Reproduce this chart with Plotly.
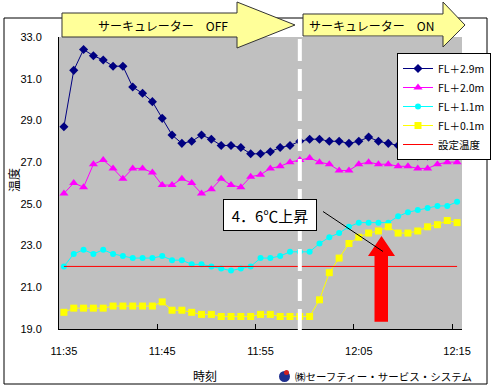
import plotly.graph_objects as go

# ---------------- data ----------------
times = ["11:35", "11:36", "11:37", "11:38", "11:39", "11:40", "11:41", "11:42", "11:43", "11:44",
         "11:45", "11:46", "11:47", "11:48", "11:49", "11:50", "11:51", "11:52", "11:53", "11:54",
         "11:55", "11:56", "11:57", "11:58", "11:59", "12:00", "12:01", "12:02", "12:03", "12:04",
         "12:05", "12:06", "12:07", "12:08", "12:09", "12:10", "12:11", "12:12", "12:13", "12:14",
         "12:15"]
tick_labels = ["11:35", "11:45", "11:55", "12:05", "12:15"]
y_ticks = [19, 21, 23, 25, 27, 29, 31, 33]
y_tick_text = ["19.0", "21.0", "23.0", "25.0", "27.0", "29.0", "31.0", "33.0"]

fl29 = [28.7, 31.4, 32.4, 32.1, 31.9, 31.6, 31.6, 30.6, 30.3, 29.9,
        29.1, 28.3, 27.9, 28.0, 28.3, 28.1, 27.8, 27.8, 27.7, 27.4,
        27.4, 27.5, 27.7, 27.8, 28.0, 28.1, 28.1, 28.0, 28.0, 27.9,
        28.0, 28.2, 28.0, 27.9, 27.8, 27.7, 27.3, 27.3, 27.5, 27.4,
        27.4]
fl20 = [25.5, 26.0, 25.8, 26.9, 27.1, 26.7, 26.2, 26.7, 26.7, 26.5,
        25.9, 25.9, 26.2, 26.0, 25.5, 25.7, 26.2, 25.9, 25.8, 26.3,
        26.4, 26.7, 26.8, 27.0, 27.1, 27.2, 27.0, 26.9, 26.6, 26.6,
        26.9, 27.0, 26.9, 26.9, 26.8, 26.8, 26.7, 26.7, 26.9, 27.0,
        27.0]
fl11 = [22.0, 22.6, 22.8, 22.6, 22.8, 22.6, 22.5, 22.4, 22.4, 22.4,
        22.5, 22.3, 22.3, 22.1, 22.1, 22.0, 21.9, 21.8, 21.9, 22.0,
        22.4, 22.4, 22.5, 22.7, 22.7, 22.7, 23.1, 23.4, 23.6, 23.9,
        24.1, 24.1, 24.1, 24.1, 24.4, 24.6, 24.7, 24.8, 24.9, 24.9,
        25.1]
fl01 = [19.8, 20.0, 20.0, 20.0, 20.0, 20.1, 20.1, 20.1, 20.1, 20.1,
        20.3, 19.9, 19.9, 19.8, 19.7, 19.7, 19.6, 19.6, 19.6, 19.6,
        19.7, 19.7, 19.6, 19.6, 19.6, 19.6, 20.4, 21.7, 22.4, 23.1,
        23.4, 23.6, 23.7, 23.9, 23.6, 23.6, 23.7, 23.9, 24.0, 24.2,
        24.1]
setpoint = [22.0, 22.0, 22.0, 22.0, 22.0, 22.0, 22.0, 22.0, 22.0, 22.0,
            22.0, 22.0, 22.0, 22.0, 22.0, 22.0, 22.0, 22.0, 22.0, 22.0,
            22.0, 22.0, 22.0, 22.0, 22.0, 22.0, 22.0, 22.0, 22.0, 22.0,
            22.0, 22.0, 22.0, 22.0, 22.0, 22.0, 22.0, 22.0, 22.0, 22.0,
            22.0]
switch_time = "11:59"

names = ["FL＋2.9m", "FL＋2.0m", "FL＋1.1m", "FL＋0.1m"]
colors = ["#000080", "#FF00FF", "#00FFFF", "#FFFF00"]
symbols = ["diamond", "triangle-up", "circle", "square"]
msizes = [7, 8, 6, 7]
series = [fl29, fl20, fl11, fl01]

FONT = "Liberation Sans, Arial, Noto Sans CJK JP"
JFONT = "Noto Sans CJK JP, Liberation Sans"

# ---------------- layout helpers ----------------
W_, H_ = 498, 388
L, R, T, B = 59, 36, 37, 59
PW, PH = W_ - L - R, H_ - T - B


def px(x):
    return (x - L) / PW


def py(y):
    return (T + PH - y) / PH


def path(pts):
    s = "M " + " L ".join(f"{px(x):.5f},{py(y):.5f}" for x, y in pts) + " Z"
    return s


fig = go.Figure()
for n, v, c, s, ms in zip(names, series, colors, symbols, msizes):
    fig.add_trace(go.Scatter(x=times, y=v, name=n, mode="lines+markers",
                             line=dict(color=c, width=1),
                             marker=dict(symbol=s, size=ms, color=c, line=dict(width=0))))
fig.add_trace(go.Scatter(x=times, y=setpoint, name="設定温度", mode="lines",
                         line=dict(color="#FF0000", width=1)))

shapes = []
# outer chart border
shapes.append(dict(type="rect", xref="paper", yref="paper",
                   x0=px(4), x1=px(487), y0=py(384), y1=py(18),
                   line=dict(color="black", width=1), fillcolor="rgba(0,0,0,0)", layer="above"))
# banners
shapes.append(dict(type="path", xref="paper", yref="paper", layer="above",
                   path=path([(62, 13), (237, 13), (237, 2), (295, 25), (237, 48), (237, 37), (62, 37)]),
                   fillcolor="#FFFF99", line=dict(color="#333333", width=1)))
shapes.append(dict(type="path", xref="paper", yref="paper", layer="above",
                   path=path([(303, 14), (443, 14), (443, 2), (465, 25), (443, 47), (443, 36), (303, 36)]),
                   fillcolor="#FFFF99", line=dict(color="#333333", width=1)))
# white dashed switch line
shapes.append(dict(type="line", xref="x", yref="paper", x0=switch_time, x1=switch_time,
                   y0=py(331), y1=1, layer="above",
                   line=dict(color="white", width=4, dash="22px,8px")))
# red up arrow
shapes.append(dict(type="path", xref="paper", yref="paper", layer="above",
                   path=path([(374.5, 321.7), (374.5, 256), (368, 256), (381.5, 236), (395, 256),
                              (388, 256), (388, 321.7)]),
                   fillcolor="#FF0000", line=dict(color="#FF0000", width=0)))
# leader line
shapes.append(dict(type="line", xref="paper", yref="paper", layer="above",
                   x0=px(323), y0=py(211.5), x1=px(383), y1=py(251.5),
                   line=dict(color="black", width=1)))
# logo icon
shapes.append(dict(type="circle", xref="paper", yref="paper", layer="above",
                   x0=px(279), x1=px(290), y0=py(382), y1=py(371),
                   fillcolor="#1F2F8F", line=dict(width=0)))
shapes.append(dict(type="circle", xref="paper", yref="paper", layer="above",
                   x0=px(284), x1=px(289), y0=py(375), y1=py(370),
                   fillcolor="#D02020", line=dict(width=0)))


def ann(x, y, text, size=12, **kw):
    d = dict(xref="paper", yref="paper", x=px(x), y=py(y), text=text, showarrow=False,
             xanchor="center", yanchor="middle",
             font=dict(family=JFONT, size=size, color="black"))
    d.update(kw)
    return d


annotations = [
    ann(163, 25, "サーキュレーター　OFF", 12),
    ann(371, 25, "サーキュレーター　ON", 12),
    ann(270, 215, "4．6℃上昇", 15, bgcolor="white", bordercolor="black", borderwidth=1,
        borderpad=0, width=92, height=30),
    ann(13, 180, "温度", 12, textangle=-90),
    ann(205, 375, "時刻", 12),
    ann(293, 376, "㈱セーフティー・サービス・システム", 10.5, xanchor="left"),
]

fig.update_layout(
    template="none",
    width=W_, height=H_,
    margin=dict(l=L, r=R, t=T, b=B, pad=0, autoexpand=False),
    paper_bgcolor="white", plot_bgcolor="#C0C0C0",
    font=dict(family=FONT, size=11, color="black"),
    showlegend=True,
    legend=dict(x=px(397), y=py(53), xanchor="left", yanchor="top",
                bgcolor="white", bordercolor="black", borderwidth=1,
                font=dict(family=JFONT, size=10.5, color="black"),
                itemwidth=30, tracegroupgap=0),
    xaxis=dict(type="category", range=[-0.5, 40.5], tickmode="array",
               tickvals=tick_labels, ticktext=tick_labels, tickson="boundaries",
               ticks="inside", ticklen=5, tickcolor="black", tickangle=0,
               showline=True, linecolor="black", linewidth=1, showgrid=False,
               zeroline=False, tickfont=dict(size=11), ticklabelstandoff=12,
               automargin=False),
    yaxis=dict(range=[19, 33], tickmode="array", tickvals=y_ticks, ticktext=y_tick_text,
               ticks="", showline=True, linecolor="black", linewidth=1,
               showgrid=False, zeroline=False, tickfont=dict(size=11),
               ticklabelstandoff=14, automargin=False),
    yaxis2=dict(range=[19, 33], overlaying="y", tickmode="array", tickvals=y_ticks[1:-1],
                showticklabels=False, ticks="", showline=False, zeroline=False,
                showgrid=True, gridcolor="black", gridwidth=1, griddash="3px,2px",
                automargin=False),
    shapes=shapes,
    annotations=annotations,
)

fig.write_html("out.html", config={"displayModeBar": False},
               post_script="document.body.style.margin='0';document.body.style.padding='0';")
